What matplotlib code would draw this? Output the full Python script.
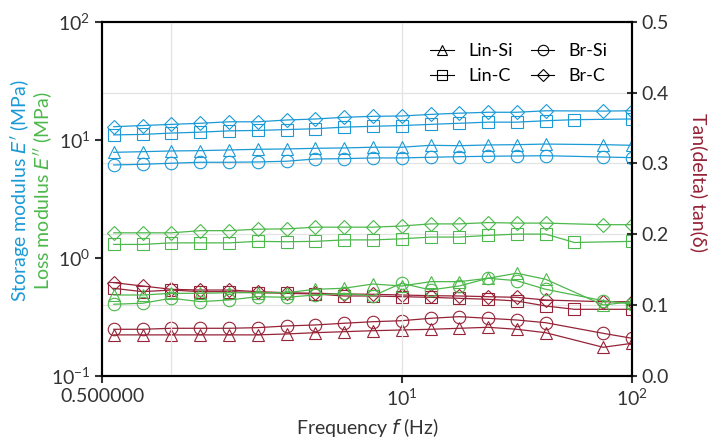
import numpy as np
import matplotlib
matplotlib.use("Agg")
import matplotlib.pyplot as plt

plt.rcParams['font.family'] = ['Lato', 'DejaVu Sans']
plt.rcParams['mathtext.fontset'] = 'dejavusans'

# frequencies (Hz) - Lin-C has 56 Hz, others have 75 Hz
freq_main = [0.5623, 0.75, 1.0, 1.334, 1.778, 2.371, 3.162, 4.217, 5.623, 7.499,
             10.0, 13.34, 17.78, 23.71, 31.62, 42.17, 74.99, 100.0]
freq_linc = [0.5623, 0.75, 1.0, 1.334, 1.778, 2.371, 3.162, 4.217, 5.623, 7.499,
             10.0, 13.34, 17.78, 23.71, 31.62, 42.17, 56.23, 100.0]

# storage modulus E' (MPa)
storage_lin_si = [7.83, 7.93, 8.04, 8.09, 8.20, 8.31, 8.36, 8.47, 8.53, 8.65,
                  8.65, 8.98, 8.91, 9.04, 9.09, 9.20, 9.09, 8.98]
storage_lin_c = [11.0, 11.1, 11.4, 11.6, 11.9, 12.0, 12.2, 12.4, 12.8, 13.0,
                 13.2, 13.5, 13.8, 14.1, 14.1, 14.5, 14.8, 15.0]
storage_br_si = [6.12, 6.20, 6.33, 6.45, 6.45, 6.49, 6.58, 6.88, 6.92, 7.02,
                 7.02, 7.11, 7.19, 7.25, 7.29, 7.33, 7.15, 7.06]
storage_br_c = [12.9, 13.2, 13.5, 13.8, 14.2, 14.2, 14.7, 15.0, 15.5, 15.8,
                15.9, 16.4, 16.8, 17.1, 17.1, 17.6, 17.5, 17.6]

# loss modulus E'' (MPa)
loss_lin_si = [0.485, 0.485, 0.501, 0.501, 0.507, 0.507, 0.507, 0.542, 0.553, 0.601,
               0.578, 0.629, 0.629, 0.672, 0.741, 0.659, 0.399, 0.426]
loss_lin_c = [1.30, 1.30, 1.34, 1.34, 1.34, 1.38, 1.37, 1.38, 1.42, 1.42,
              1.45, 1.50, 1.50, 1.55, 1.59, 1.59, 1.35, 1.38]
loss_br_si = [0.405, 0.413, 0.455, 0.426, 0.440, 0.469, 0.464, 0.485, 0.501, 0.476,
              0.610, 0.535, 0.578, 0.672, 0.641, 0.542, 0.434, 0.407]
loss_br_c = [1.63, 1.63, 1.63, 1.70, 1.70, 1.75, 1.76, 1.82, 1.82, 1.82,
             1.86, 1.94, 1.94, 1.99, 1.97, 1.97, 1.91, 1.91]

# tan(delta)
tan_lin_si = [0.058, 0.058, 0.058, 0.058, 0.058, 0.058, 0.0593, 0.0611, 0.0625, 0.0639,
              0.0649, 0.0659, 0.0673, 0.0687, 0.0659, 0.0611, 0.0405, 0.0461]
tan_lin_c = [0.1237, 0.119, 0.1213, 0.119, 0.119, 0.1175, 0.1167, 0.1157, 0.1129, 0.1129,
             0.1119, 0.111, 0.1096, 0.1082, 0.1058, 0.0988, 0.0941, 0.0941]
tan_br_si = [0.0659, 0.0659, 0.0673, 0.0673, 0.0673, 0.0682, 0.0706, 0.072, 0.0744, 0.0766,
             0.078, 0.0814, 0.0837, 0.0814, 0.079, 0.0752, 0.0602, 0.0532]
tan_br_c = [0.1317, 0.127, 0.1223, 0.1213, 0.1213, 0.119, 0.1175, 0.1167, 0.1157, 0.1153,
            0.1143, 0.1133, 0.1129, 0.1119, 0.111, 0.1072, 0.1048, 0.1048]

blue = "#1b9ad6"
green = "#4db84b"
red = "#962337"

fig = plt.figure(figsize=(7.09, 4.38), dpi=100)
ax = fig.add_axes([0.1439, 0.1416, 0.7475, 0.8089])
ax2 = ax.twinx()

series = [
    (freq_main, storage_lin_si, loss_lin_si, tan_lin_si, "^", 9),
    (freq_linc, storage_lin_c, loss_lin_c, tan_lin_c, "s", 9),
    (freq_main, storage_br_si, loss_br_si, tan_br_si, "o", 9),
    (freq_main, storage_br_c, loss_br_c, tan_br_c, "D", 7.5),
]
for fr, st, lo, tn, m, ms in series:
    kw = dict(marker=m, markerfacecolor="none", markersize=ms,
              markeredgewidth=0.8, linewidth=0.9)
    ax.plot(fr, st, color=blue, **kw)
    ax.plot(fr, lo, color=green, **kw)
    ax2.plot(fr, tn, color=red, **kw)

ax.set_xscale("log")
ax.set_yscale("log")
ax.set_xlim(0.5, 100)
ax.set_ylim(0.1, 100)
ax2.set_ylim(0, 0.5)

ax.set_xticks([0.5, 10, 100])
ax.set_xticklabels(["0.500000", r"$\mathdefault{10^{1}}$", r"$\mathdefault{10^{2}}$"])
ax.xaxis.set_minor_locator(matplotlib.ticker.NullLocator())
ax.yaxis.set_minor_locator(matplotlib.ticker.NullLocator())
ax.set_yticks([0.1, 1, 10, 100])

# vertical grid at 1 and 10 Hz
for gx in [1, 10]:
    ax.axvline(gx, color="#e3e3e3", linewidth=0.9, zorder=0)
ax2.set_yticks([0, 0.1, 0.2, 0.3, 0.4, 0.5])
ax2.set_yticklabels(["0.0", "0.1", "0.2", "0.3", "0.4", "0.5"])
for gy in [0.1, 0.2, 0.3, 0.4]:
    ax2.axhline(gy, color="#e3e3e3", linewidth=0.9, zorder=0)
ax2.set_zorder(0)
ax.set_zorder(1)
ax.patch.set_visible(False)

for a in (ax, ax2):
    for s in a.spines.values():
        s.set_linewidth(1.5)
ax.tick_params(axis="both", which="major", labelsize=14, colors="#333333",
               width=1.5, length=5, direction="out")
ax2.tick_params(axis="y", labelsize=14, colors="#333333", width=1.5,
                length=7, direction="inout")

ax.set_xlabel(r"Frequency $f$ (Hz)", fontsize=14, color="#333333", labelpad=5)

fig.text(0.027, 0.565, "Storage modulus $E'$ (MPa)", rotation=90, color=blue,
         fontsize=14, ha="center", va="center")
fig.text(0.060, 0.565, "Loss modulus $E''$ (MPa)", rotation=90, color=green,
         fontsize=14, ha="center", va="center")
fig.text(0.985, 0.584, "Tan(delta) tan(δ)", rotation=-90, color=red,
         fontsize=14, ha="center", va="center")

handles = []
labels = []
for lab, m, ms in [("Lin-Si", "^", 7.5), ("Lin-C", "s", 7), ("Br-Si", "o", 7.5), ("Br-C", "D", 6)]:
    h, = ax.plot([], [], marker=m, color="black", markerfacecolor="none",
                 markersize=ms, markeredgewidth=0.8, linewidth=0.8)
    handles.append(h)
    labels.append(lab)
ax.legend(handles, labels, ncol=2, frameon=False,
          loc="upper right", bbox_to_anchor=(0.985, 0.985), fontsize=13,
          handlelength=1.3, columnspacing=1.0, labelspacing=0.5, handletextpad=0.8)

fig.savefig("out.png", dpi=100)
